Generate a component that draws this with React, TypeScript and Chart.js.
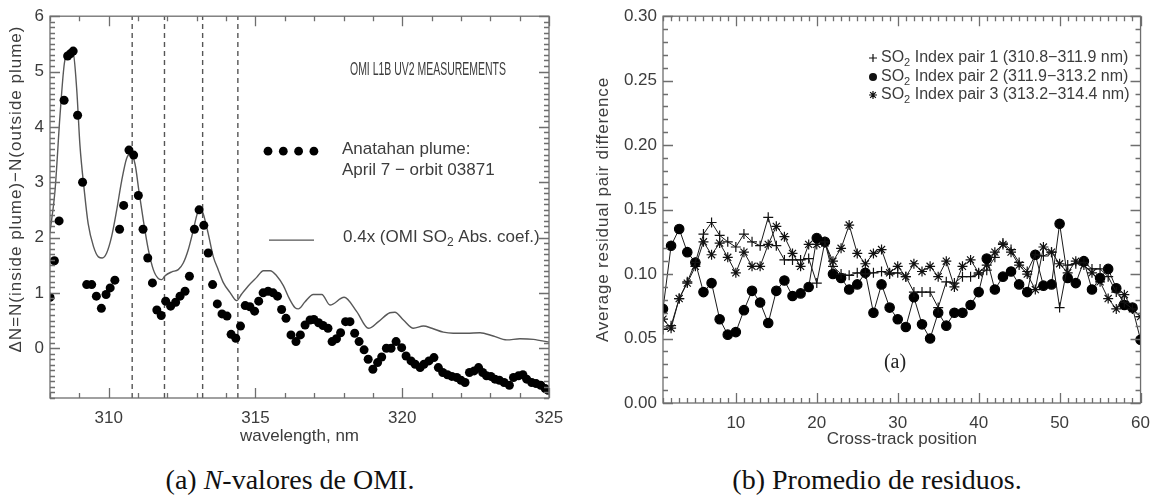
import React, { useEffect, useRef } from 'react';
import { Chart, registerables } from 'chart.js';
Chart.register(...registerables);

// ---------------- Panel (a): OMI N-values ----------------
const dotWavelengths = [
  308.0, 308.15, 308.31, 308.48, 308.6, 308.69, 308.79, 308.94, 309.11, 309.25,
  309.42, 309.58, 309.75, 309.91, 310.05, 310.21, 310.37, 310.51, 310.69, 310.85,
  311.01, 311.17, 311.33, 311.49, 311.64, 311.79, 311.94, 312.11, 312.28, 312.43,
  312.6, 312.75, 312.92, 313.08, 313.24, 313.39, 313.54, 313.7, 313.86, 314.03,
  314.17, 314.33, 314.49, 314.65, 314.81, 314.97, 315.11, 315.26, 315.43, 315.6,
  315.75, 315.89, 316.04, 316.21, 316.38, 316.53, 316.69, 316.86, 316.99, 317.15,
  317.3, 317.47, 317.61, 317.76, 317.9, 318.07, 318.22, 318.38, 318.53, 318.7,
  318.84, 319.0, 319.16, 319.3, 319.46, 319.62, 319.79, 319.98, 320.13, 320.3,
  320.44, 320.61, 320.74, 320.91, 321.08, 321.23, 321.38, 321.54, 321.69, 321.86,
  322.0, 322.14, 322.29, 322.45, 322.6, 322.74, 322.87, 323.02, 323.16, 323.31,
  323.47, 323.65, 323.79, 323.96, 324.11, 324.24, 324.41, 324.56, 324.72, 324.87,
  324.97,
];
const deltaN = [
  0.92, 1.58, 2.3, 4.48, 5.28, 5.32, 5.37, 4.21, 3.0, 1.15,
  1.15, 0.94, 0.72, 0.97, 1.09, 1.23, 2.15, 2.58, 3.58, 3.49,
  2.76, 2.15, 1.63, 1.18, 0.69, 0.59, 0.85, 0.76, 0.83, 0.94,
  1.03, 1.3, 2.15, 2.5, 2.22, 1.72, 1.15, 0.8, 0.62, 0.58,
  0.25, 0.18, 0.4, 0.77, 0.75, 0.67, 0.85, 1.0, 1.03, 1.0,
  0.94, 0.7, 0.54, 0.24, 0.12, 0.24, 0.42, 0.51, 0.52, 0.46,
  0.41, 0.36, 0.12, 0.17, 0.28, 0.48, 0.48, 0.27, 0.12, -0.03,
  -0.2, -0.38, -0.26, -0.16, 0.0, 0.0, 0.12, 0.01, -0.14, -0.23,
  -0.29, -0.35, -0.29, -0.23, -0.17, -0.35, -0.44, -0.48, -0.51, -0.53,
  -0.58, -0.62, -0.44, -0.41, -0.35, -0.44, -0.5, -0.51, -0.56, -0.58,
  -0.62, -0.67, -0.53, -0.5, -0.48, -0.56, -0.62, -0.64, -0.67, -0.73,
  -0.76,
];
const coefWavelengths = [
  308.0, 308.17, 308.34, 308.49, 308.65, 308.79, 308.91, 309.02, 309.17, 309.3,
  309.48, 309.65, 309.78, 309.93, 310.1, 310.27, 310.44, 310.61, 310.76, 310.9,
  311.03, 311.18, 311.35, 311.52, 311.69, 311.81, 311.92, 312.15, 312.37, 312.54,
  312.71, 312.88, 313.0, 313.11, 313.22, 313.39, 313.56, 313.73, 313.9, 314.13,
  314.36, 314.53, 314.76, 315.04, 315.27, 315.5, 315.72, 315.95, 316.15, 316.35,
  316.46, 316.69, 316.97, 317.26, 317.54, 318.02, 318.45, 318.85, 319.19, 319.58,
  319.75, 320.04, 320.38, 320.72, 321.01, 321.4, 321.74, 322.2, 322.65, 323.1,
  323.56, 324.01, 324.47, 325.0,
];
const coefValues = [
  2.1, 2.84, 4.2, 5.15, 5.35, 5.33, 4.68, 3.67, 2.84, 2.25,
  1.84, 1.65, 1.63, 1.72, 2.02, 2.49, 3.02, 3.43, 3.52, 3.32,
  2.84, 2.31, 1.78, 1.42, 1.26, 1.24, 1.31, 1.38, 1.42, 1.54,
  1.78, 2.13, 2.4, 2.54, 2.43, 2.07, 1.66, 1.42, 1.19, 1.01,
  0.86, 0.98, 1.13, 1.28, 1.4, 1.4, 1.31, 1.13, 0.9, 0.73,
  0.71, 0.84, 0.97, 0.97, 0.78, 0.92, 0.66, 0.36, 0.48, 0.64,
  0.65, 0.51, 0.36, 0.4, 0.36, 0.29, 0.27, 0.27, 0.28, 0.22,
  0.15, 0.17, 0.16, 0.11,
];
const pairEdges = [310.8, 311.9, 313.2, 314.4];
const leftXRange = [308, 325];
const leftYRange = [-0.9, 6];
const leftXTicks = [310, 315, 320, 325];
const leftYTicks = [0, 1, 2, 3, 4, 5, 6];

// ---------------- Panel (b): residual averages ----------------
const crossTrack = [
  1, 2, 3, 4, 5, 6, 7, 8, 9, 10, 11, 12, 13, 14, 15, 16, 17, 18, 19, 20,
  21, 22, 23, 24, 25, 26, 27, 28, 29, 30, 31, 32, 33, 34, 35, 36, 37, 38, 39, 40,
  41, 42, 43, 44, 45, 46, 47, 48, 49, 50, 51, 52, 53, 54, 55, 56, 57, 58, 59, 60,
];
const pair1 = [
  0.057, 0.06, 0.081, 0.094, 0.109, 0.131, 0.14, 0.13, 0.125, 0.121,
  0.131, 0.125, 0.122, 0.144, 0.122, 0.111, 0.111, 0.111, 0.112, 0.093,
  0.125, 0.106, 0.1, 0.099, 0.101, 0.1, 0.101, 0.102, 0.1, 0.101,
  0.098, 0.086, 0.086, 0.086, 0.074, 0.094, 0.093, 0.098, 0.098, 0.1,
  0.103, 0.113, 0.124, 0.119, 0.109, 0.102, 0.115, 0.114, 0.117, 0.074,
  0.107, 0.108, 0.109, 0.104, 0.104, 0.098, 0.086, 0.078, 0.073, 0.067,
];
const pair2 = [
  0.073, 0.122, 0.135, 0.117, 0.109, 0.086, 0.093, 0.065, 0.053, 0.055,
  0.072, 0.087, 0.078, 0.062, 0.087, 0.095, 0.083, 0.085, 0.09, 0.128,
  0.125, 0.1, 0.097, 0.088, 0.092, 0.101, 0.07, 0.092, 0.074, 0.065,
  0.059, 0.082, 0.061, 0.05, 0.07, 0.06, 0.07, 0.07, 0.076, 0.086,
  0.112, 0.088, 0.098, 0.102, 0.092, 0.086, 0.115, 0.091, 0.092, 0.139,
  0.097, 0.093, 0.11, 0.088, 0.097, 0.104, 0.089, 0.076, 0.074, 0.049,
];
const pair3 = [
  0.065, 0.058, 0.081, 0.093, 0.106, 0.125, 0.115, 0.124, 0.113, 0.101,
  0.117, 0.106, 0.106, 0.123, 0.137, 0.129, 0.116, 0.106, 0.123, 0.123,
  0.124, 0.11, 0.12, 0.138, 0.116, 0.108, 0.116, 0.119, 0.101, 0.106,
  0.098, 0.108, 0.102, 0.106, 0.098, 0.11, 0.09, 0.106, 0.111, 0.101,
  0.107, 0.117, 0.123, 0.117, 0.107, 0.1, 0.088, 0.121, 0.117, 0.108,
  0.101, 0.11, 0.107, 0.101, 0.094, 0.081, 0.073, 0.084, 0.073, 0.067,
];
const rightXRange = [1, 60];
const rightYRange = [0, 0.3];
const rightXTicks = [10, 20, 30, 40, 50, 60];
const rightYTicks = [0, 0.05, 0.1, 0.15, 0.2, 0.25, 0.3];

// ---------------- styling helpers ----------------
const SANS = "'Liberation Sans', Arial, sans-serif";
const SERIF = "'Liberation Serif', 'Times New Roman', serif";
const TEXT = '#3c3c3c';
const FRAME = '#6e6e6e';

function steps(min: number, max: number, step: number) {
  const out: number[] = [];
  for (let i = Math.ceil(min / step - 1e-9); i * step <= max + 1e-9; i++) out.push(i * step);
  return out;
}

function drawFrame(chart: any, xMinorStep: number, xMajorStep: number, yMinorStep: number, yMajorStep: number) {
  const { ctx, chartArea: a, scales } = chart;
  const sx = scales.x;
  const sy = scales.y;
  ctx.save();
  ctx.strokeStyle = FRAME;
  ctx.lineWidth = 1.3;
  ctx.strokeRect(a.left, a.top, a.right - a.left, a.bottom - a.top);
  ctx.beginPath();
  const isMajor = (v: number, s: number) => Math.abs(v / s - Math.round(v / s)) < 1e-6;
  steps(sx.min, sx.max, xMinorStep).forEach((v) => {
    const p = Math.round(sx.getPixelForValue(v)) + 0.5;
    const len = isMajor(v, xMajorStep) ? 10 : 5;
    ctx.moveTo(p, a.bottom);
    ctx.lineTo(p, a.bottom - len);
    ctx.moveTo(p, a.top);
    ctx.lineTo(p, a.top + len);
  });
  steps(sy.min, sy.max, yMinorStep).forEach((v) => {
    const p = Math.round(sy.getPixelForValue(v)) + 0.5;
    const len = isMajor(v, yMajorStep) ? 10 : 5;
    ctx.moveTo(a.left, p);
    ctx.lineTo(a.left + len, p);
    ctx.moveTo(a.right, p);
    ctx.lineTo(a.right - len, p);
  });
  ctx.stroke();
  ctx.restore();
}

// draws text made of [text, isSubscript] parts, left aligned, middle baseline
function drawRich(ctx: CanvasRenderingContext2D, parts: [string, boolean][], x: number, y: number, size: number) {
  let cx = x;
  ctx.textBaseline = 'middle';
  ctx.textAlign = 'left';
  parts.forEach(([t, sub]) => {
    const s = sub ? Math.round(size * 0.68) : size;
    ctx.font = `${s}px ${SANS}`;
    ctx.fillText(t, cx, sub ? y + size * 0.3 : y);
    cx += ctx.measureText(t).width;
  });
}

function fixedAxis(size: number, dim: 'width' | 'height') {
  return (scale: any) => {
    scale[dim] = size;
  };
}

// ---------------- Panel (a) chart ----------------
function LeftChart() {
  const ref = useRef<HTMLCanvasElement>(null);
  useEffect(() => {
    const canvas = ref.current!;
    const edgeSets = pairEdges.map((e) => ({
      type: 'line' as const,
      data: [{ x: e, y: leftYRange[0] }, { x: e, y: leftYRange[1] }],
      borderColor: '#555',
      borderWidth: 1.4,
      borderDash: [5, 4],
      pointRadius: 0,
      order: 3,
    }));
    const plugin = {
      id: 'leftDeco',
      afterDatasetsDraw(chart: any) {
        drawFrame(chart, 1, 5, 0.1, 1);
        const { ctx, chartArea: a } = chart;
        ctx.save();
        ctx.fillStyle = TEXT;
        // y-axis title
        ctx.save();
        ctx.translate(16, 189);
        ctx.rotate(-Math.PI / 2);
        ctx.font = `17px ${SANS}`;
        (ctx as any).letterSpacing = '1px';
        ctx.textAlign = 'center';
        ctx.textBaseline = 'middle';
        ctx.fillText('ΔN=N(inside plume)−N(outside plume)', 0, 0);
        ctx.restore();
        // x-axis title
        ctx.font = `17px ${SANS}`;
        ctx.textAlign = 'center';
        ctx.textBaseline = 'middle';
        ctx.fillText('wavelength, nm', (a.left + a.right) / 2, 436);
        // header (condensed)
        ctx.save();
        ctx.font = `19px ${SANS}`;
        const head = 'OMI L1B UV2 MEASUREMENTS';
        const w = ctx.measureText(head).width;
        ctx.translate(a.left + 300, a.top + 54);
        ctx.scale(156 / w, 1);
        ctx.textAlign = 'left';
        ctx.textBaseline = 'middle';
        ctx.fillText(head, 0, 0);
        ctx.restore();
        // legend: dots
        ctx.fillStyle = '#000';
        [0, 15.3, 30.6, 45.9].forEach((dx) => {
          ctx.beginPath();
          ctx.arc(a.left + 218 + dx, a.top + 135, 4.4, 0, Math.PI * 2);
          ctx.fill();
        });
        ctx.fillStyle = TEXT;
        drawRich(ctx, [['Anatahan plume:', false]], a.left + 292, a.top + 133, 17);
        drawRich(ctx, [['April 7 − orbit 03871', false]], a.left + 292, a.top + 154, 17);
        // legend: line
        ctx.strokeStyle = '#555';
        ctx.lineWidth = 1.3;
        ctx.beginPath();
        ctx.moveTo(a.left + 219, a.top + 224);
        ctx.lineTo(a.left + 264, a.top + 224);
        ctx.stroke();
        drawRich(ctx, [['0.4x (OMI SO', false], ['2', true], [' Abs. coef.)', false]], a.left + 293, a.top + 221, 17);
        ctx.restore();
      },
    };
    const chart = new Chart(canvas, {
      type: 'scatter',
      data: {
        datasets: [
          {
            type: 'scatter' as const,
            data: dotWavelengths.map((x, i) => ({ x, y: deltaN[i] })),
            backgroundColor: '#000',
            borderColor: '#000',
            pointRadius: 4.5,
            pointBorderWidth: 0,
            order: 1,
          },
          {
            type: 'line' as const,
            data: coefWavelengths.map((x, i) => ({ x, y: coefValues[i] })),
            borderColor: '#585858',
            borderWidth: 1.4,
            pointRadius: 0,
            cubicInterpolationMode: 'monotone' as const,
            order: 2,
          },
          ...edgeSets,
        ] as any,
      },
      options: {
        animation: false,
        responsive: false,
        maintainAspectRatio: false,
        layout: { padding: { left: 0, top: 9, right: 26, bottom: 0 } },
        plugins: { legend: { display: false }, tooltip: { enabled: false } },
        scales: {
          x: {
            type: 'linear',
            min: leftXRange[0],
            max: leftXRange[1],
            afterBuildTicks: (s: any) => {
              s.ticks = leftXTicks.map((v) => ({ value: v }));
            },
            afterFit: fixedAxis(52, 'height'),
            grid: { display: false, drawTicks: false },
            border: { display: false },
            ticks: { color: TEXT, font: { family: SANS, size: 17 }, padding: 10, maxRotation: 0, autoSkip: false },
          },
          y: {
            type: 'linear',
            min: leftYRange[0],
            max: leftYRange[1],
            afterBuildTicks: (s: any) => {
              s.ticks = leftYTicks.map((v) => ({ value: v }));
            },
            afterFit: fixedAxis(50, 'width'),
            grid: { display: false, drawTicks: false },
            border: { display: false },
            ticks: { color: TEXT, font: { family: SANS, size: 17 }, padding: 6, callback: (v: any) => String(v) },
          },
        },
      },
      plugins: [plugin],
    });
    return () => chart.destroy();
  }, []);
  return <canvas ref={ref} width={575} height={450} style={{ position: 'absolute', left: 0, top: 0, width: 575, height: 450 }} />;
}

// ---------------- Panel (b) chart ----------------
function RightChart() {
  const ref = useRef<HTMLCanvasElement>(null);
  useEffect(() => {
    const canvas = ref.current!;
    const plugin = {
      id: 'rightDeco',
      afterDatasetsDraw(chart: any) {
        drawFrame(chart, 1, 10, 0.01, 0.05);
        const { ctx, chartArea: a } = chart;
        ctx.save();
        ctx.fillStyle = TEXT;
        ctx.save();
        ctx.translate(23, (a.top + a.bottom) / 2);
        ctx.rotate(-Math.PI / 2);
        ctx.font = `17px ${SANS}`;
        (ctx as any).letterSpacing = '0.8px';
        ctx.textAlign = 'center';
        ctx.textBaseline = 'middle';
        ctx.fillText('Average residual pair difference', 0, 0);
        ctx.restore();
        ctx.font = `17px ${SANS}`;
        ctx.textAlign = 'center';
        ctx.textBaseline = 'middle';
        ctx.fillText('Cross-track position', (a.left + a.right) / 2, 439);
        // panel tag
        ctx.font = `20px ${SERIF}`;
        ctx.fillStyle = '#222';
        ctx.fillText('(a)', a.left + 232, 363);
        // legend
        const labels = ['(310.8−311.9 nm)', '(311.9−313.2 nm)', '(313.2−314.4 nm)'];
        const ys = [58, 77, 95];
        ctx.strokeStyle = '#111';
        ctx.fillStyle = '#111';
        ctx.lineWidth = 1.2;
        const sx = a.left + 210;
        ys.forEach((y, i) => {
          ctx.beginPath();
          if (i === 0) {
            ctx.moveTo(sx - 4, y); ctx.lineTo(sx + 4, y);
            ctx.moveTo(sx, y - 4); ctx.lineTo(sx, y + 4);
            ctx.stroke();
          } else if (i === 1) {
            ctx.arc(sx, y, 4, 0, Math.PI * 2);
            ctx.fill();
          } else {
            for (let k = 0; k < 4; k++) {
              const ang = (k * Math.PI) / 4;
              ctx.moveTo(sx - 4 * Math.cos(ang), y - 4 * Math.sin(ang));
              ctx.lineTo(sx + 4 * Math.cos(ang), y + 4 * Math.sin(ang));
            }
            ctx.stroke();
          }
        });
        ctx.fillStyle = TEXT;
        ys.forEach((y, i) => {
          drawRich(ctx, [['SO', false], ['2', true], [` Index pair ${i + 1} ${labels[i]}`, false]], sx + 8, y, 16);
        });
        ctx.restore();
      },
    };
    const common = { borderColor: '#1a1a1a', borderWidth: 1, pointBorderWidth: 1.2 };
    const chart = new Chart(canvas, {
      type: 'line',
      data: {
        datasets: [
          { ...common, data: crossTrack.map((x, i) => ({ x, y: pair1[i] })), pointStyle: 'cross', pointRadius: 5, pointBorderColor: '#111' },
          { ...common, data: crossTrack.map((x, i) => ({ x, y: pair2[i] })), pointStyle: 'circle', pointRadius: 4.7, pointBackgroundColor: '#000', pointBorderColor: '#000' },
          { ...common, data: crossTrack.map((x, i) => ({ x, y: pair3[i] })), pointStyle: 'star', pointRadius: 5, pointBorderColor: '#111' },
        ] as any,
      },
      options: {
        animation: false,
        responsive: false,
        maintainAspectRatio: false,
        layout: { padding: { left: 0, top: 16, right: 14, bottom: 0 } },
        plugins: { legend: { display: false }, tooltip: { enabled: false } },
        scales: {
          x: {
            type: 'linear',
            min: rightXRange[0],
            max: rightXRange[1],
            afterBuildTicks: (s: any) => {
              s.ticks = rightXTicks.map((v) => ({ value: v }));
            },
            afterFit: fixedAxis(47, 'height'),
            grid: { display: false, drawTicks: false },
            border: { display: false },
            ticks: { color: TEXT, font: { family: SANS, size: 17 }, padding: 10, maxRotation: 0, autoSkip: false },
          },
          y: {
            type: 'linear',
            min: rightYRange[0],
            max: rightYRange[1],
            afterBuildTicks: (s: any) => {
              s.ticks = rightYTicks.map((v) => ({ value: v }));
            },
            afterFit: fixedAxis(83, 'width'),
            grid: { display: false, drawTicks: false },
            border: { display: false },
            ticks: { color: TEXT, font: { family: SANS, size: 17 }, padding: 6, callback: (v: any) => Number(v).toFixed(2) },
          },
        },
      },
      plugins: [plugin],
    });
    return () => chart.destroy();
  }, []);
  return <canvas ref={ref} width={580} height={450} style={{ position: 'absolute', left: 580, top: 0, width: 580, height: 450 }} />;
}

export default function App() {
  const cap: React.CSSProperties = {
    position: 'absolute',
    top: 464,
    width: 580,
    textAlign: 'center',
    fontFamily: SERIF,
    fontSize: 28,
    color: '#111',
    whiteSpace: 'nowrap',
  };
  return (
    <div style={{ position: 'fixed', left: 0, top: 0, width: 1160, height: 502, background: '#fff', overflow: 'hidden' }}>
      <LeftChart />
      <RightChart />
      <div style={{ ...cap, left: 0 }}>
        (a) <i>N</i>-valores de OMI.
      </div>
      <div style={{ ...cap, left: 587 }}>(b) Promedio de residuos.</div>
    </div>
  );
}
